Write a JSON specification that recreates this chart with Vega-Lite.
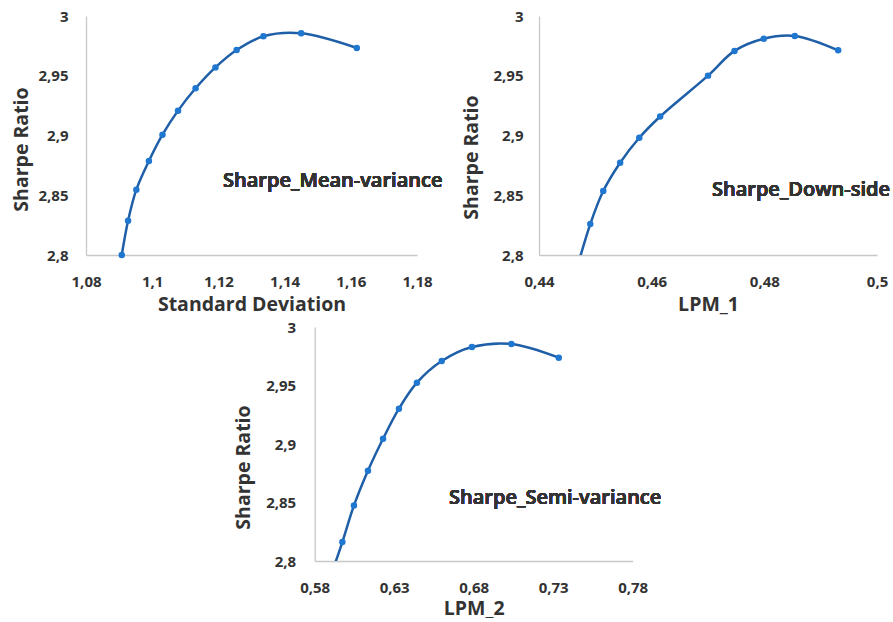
{
  "$schema": "https://vega.github.io/schema/vega-lite/v6.json",
  "background": "white",
  "padding": {"left": 11, "top": 9, "right": 1, "bottom": 0},
  "datasets": {
    "mv": [
      {"sd": 1.0908, "sharpe": 2.8},
      {"sd": 1.0927, "sharpe": 2.8287},
      {"sd": 1.0952, "sharpe": 2.8547},
      {"sd": 1.099, "sharpe": 2.8787},
      {"sd": 1.1031, "sharpe": 2.9007},
      {"sd": 1.1078, "sharpe": 2.9208},
      {"sd": 1.1131, "sharpe": 2.9395},
      {"sd": 1.1191, "sharpe": 2.957},
      {"sd": 1.1255, "sharpe": 2.9715},
      {"sd": 1.1336, "sharpe": 2.983},
      {"sd": 1.145, "sharpe": 2.9855},
      {"sd": 1.1618, "sharpe": 2.9732}
    ],
    "ds": [
      {"lpm": 0.4462, "sharpe": 2.78},
      {"lpm": 0.4491, "sharpe": 2.8259},
      {"lpm": 0.4514, "sharpe": 2.8535},
      {"lpm": 0.4544, "sharpe": 2.8772},
      {"lpm": 0.4578, "sharpe": 2.8981},
      {"lpm": 0.4615, "sharpe": 2.9159},
      {"lpm": 0.47, "sharpe": 2.9501},
      {"lpm": 0.4747, "sharpe": 2.9708},
      {"lpm": 0.4799, "sharpe": 2.981},
      {"lpm": 0.4854, "sharpe": 2.9833},
      {"lpm": 0.4931, "sharpe": 2.9713}
    ],
    "sv": [
      {"lpm": 0.5908, "sharpe": 2.79},
      {"lpm": 0.5974, "sharpe": 2.8162},
      {"lpm": 0.6047, "sharpe": 2.8475},
      {"lpm": 0.6135, "sharpe": 2.8772},
      {"lpm": 0.623, "sharpe": 2.9045},
      {"lpm": 0.633, "sharpe": 2.9302},
      {"lpm": 0.6443, "sharpe": 2.9524},
      {"lpm": 0.6599, "sharpe": 2.9709},
      {"lpm": 0.6789, "sharpe": 2.9829},
      {"lpm": 0.7037, "sharpe": 2.9855},
      {"lpm": 0.7335, "sharpe": 2.9738}
    ]
  },
  "config": {
    "view": {"stroke": null},
    "font": "Open Sans",
    "axis": {
      "domainColor": "#c8c8c8",
      "domainWidth": 1.3,
      "ticks": false,
      "grid": false,
      "labelFlush": false,
      "labelFont": "Open Sans",
      "labelFontWeight": "bold",
      "labelFontSize": 15,
      "labelColor": "#333333",
      "labelPadding": 16,
      "titleFont": "Open Sans",
      "titleFontWeight": "bold",
      "titleFontSize": 19.5,
      "titleColor": "#333333",
      "labelExpr": "replace(format(datum.value, '.2~f'), '.', ',')"
    },
    "axisY": {"titlePadding": 5},
    "axisX": {"titlePadding": 6, "labelPadding": 19}
  },
  "center": true,
  "spacing": 6,
  "vconcat": [
    {
      "spacing": 17,
      "hconcat": [
        {
          "width": 331,
          "height": 239,
          "data": {"name": "mv"},
          "layer": [
            {
              "mark": {"type": "line", "interpolate": "catmull-rom", "color": "#1f5fa8", "strokeWidth": 2.5, "clip": true},
              "encoding": {
                "x": {"field": "sd", "type": "quantitative", "scale": {"domain": [1.08, 1.18], "nice": false, "zero": false}, "axis": {"values": [1.08, 1.1, 1.12, 1.14, 1.16, 1.18]}, "title": "Standard Deviation"},
                "y": {"field": "sharpe", "type": "quantitative", "scale": {"domain": [2.8, 3], "nice": false, "zero": false}, "axis": {"values": [2.8, 2.85, 2.9, 2.95, 3], "titlePadding": 7, "labelPadding": 18, "titleY": 133}, "title": "Sharpe Ratio"}
              }
            },
            {
              "transform": [{"filter": "datum.sharpe >= 2.8"}],
              "mark": {"type": "point", "filled": true, "size": 42, "opacity": 1, "color": "#1f77d0"},
              "encoding": {
                "x": {"field": "sd", "type": "quantitative"},
                "y": {"field": "sharpe", "type": "quantitative"}
              }
            },
            {
              "mark": {"type": "text", "text": "Sharpe_Mean-variance", "align": "left", "baseline": "middle", "font": "Open Sans", "fontWeight": 600, "fontSize": 20, "color": "#333333"},
              "encoding": {
                "x": {"datum": 1.1214},
                "y": {"datum": 2.862}
              }
            }
          ]
        },
        {
          "width": 338,
          "height": 239,
          "data": {"name": "ds"},
          "layer": [
            {
              "mark": {"type": "line", "interpolate": "catmull-rom", "color": "#1f5fa8", "strokeWidth": 2.5, "clip": true},
              "encoding": {
                "x": {"field": "lpm", "type": "quantitative", "scale": {"domain": [0.44, 0.5], "nice": false, "zero": false}, "axis": {"values": [0.44, 0.46, 0.48, 0.5]}, "title": "LPM_1"},
                "y": {"field": "sharpe", "type": "quantitative", "scale": {"domain": [2.8, 3], "nice": false, "zero": false}, "axis": {"values": [2.8, 2.85, 2.9, 2.95, 3], "titlePadding": 12, "titleY": 141}, "title": "Sharpe Ratio"}
              }
            },
            {
              "transform": [{"filter": "datum.sharpe >= 2.8"}],
              "mark": {"type": "point", "filled": true, "size": 42, "opacity": 1, "color": "#1f77d0"},
              "encoding": {
                "x": {"field": "lpm", "type": "quantitative"},
                "y": {"field": "sharpe", "type": "quantitative"}
              }
            },
            {
              "mark": {"type": "text", "text": "Sharpe_Down-side", "align": "left", "baseline": "middle", "font": "Open Sans", "fontWeight": 600, "fontSize": 20, "color": "#333333"},
              "encoding": {
                "x": {"datum": 0.4707},
                "y": {"datum": 2.8543}
              }
            }
          ]
        }
      ]
    },
    {
      "width": 318,
      "height": 234,
      "data": {"name": "sv"},
      "layer": [
        {
          "mark": {"type": "line", "interpolate": "catmull-rom", "color": "#1f5fa8", "strokeWidth": 2.5, "clip": true},
          "encoding": {
            "x": {"field": "lpm", "type": "quantitative", "scale": {"domain": [0.58, 0.78], "nice": false, "zero": false}, "axis": {"values": [0.58, 0.63, 0.68, 0.73, 0.78], "titlePadding": 4}, "title": "LPM_2"},
            "y": {"field": "sharpe", "type": "quantitative", "scale": {"domain": [2.8, 3], "nice": false, "zero": false}, "axis": {"values": [2.8, 2.85, 2.9, 2.95, 3], "titlePadding": 12, "titleY": 140, "labelPadding": 19, "titleLineHeight": 24}, "title": ["", "Sharpe Ratio"]}
          }
        },
        {
          "transform": [{"filter": "datum.sharpe >= 2.8"}],
          "mark": {"type": "point", "filled": true, "size": 42, "opacity": 1, "color": "#1f77d0"},
          "encoding": {
            "x": {"field": "lpm", "type": "quantitative"},
            "y": {"field": "sharpe", "type": "quantitative"}
          }
        },
        {
          "mark": {"type": "text", "text": "Sharpe_Semi-variance", "align": "left", "baseline": "middle", "font": "Open Sans", "fontWeight": 600, "fontSize": 20, "color": "#333333"},
          "encoding": {
            "x": {"datum": 0.6645},
            "y": {"datum": 2.8538}
          }
        }
      ]
    }
  ]
}
